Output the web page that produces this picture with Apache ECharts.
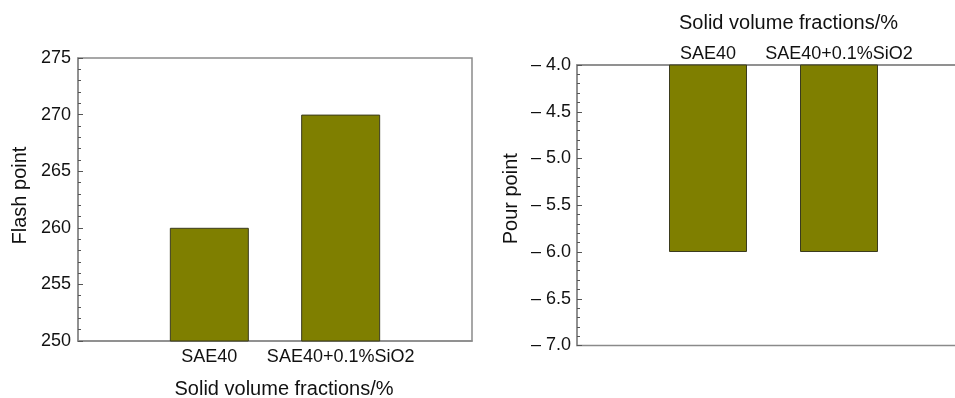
<!DOCTYPE html>
<html>
<head>
<meta charset="utf-8">
<script src="https://cdn.jsdelivr.net/npm/echarts@6/dist/echarts.min.js"></script>
<style>
  html, body { margin: 0; padding: 0; background: #fff; }
  #chart { width: 955px; height: 398px; }
</style>
</head>
<body>
<div id="chart"></div>
<script>
// Oil samples compared in both panels
const categories = ['SAE40', 'SAE40+0.1%SiO2'];
// Flash point values (left panel)
const flashPoint = [260, 270];
// Pour point values (right panel)
const pourPoint = [-6.0, -6.0];
// Value axis ranges and tick steps
const flashTicks = { min: 250, max: 275, step: 5 };
const pourTicks = { min: -7.0, max: -4.0, step: 0.5 };

// Categories sit at 1/3 and 2/3 of the plot width: pad both ends with empty slots
const paddedCats = [''].concat(categories, ['']);
const pad = arr => [null].concat(arr, [null]);

const FONT = '"Liberation Sans", Arial, Helvetica, sans-serif';
const BORDER = '#8a8a8a';
const BAR = '#7f7f00';
const BAR_EDGE = '#3b3b1e';

const chart = echarts.init(document.getElementById('chart'), null, { renderer: 'canvas' });

function valueAxisStyle() {
  return {
    axisLine: { show: true, lineStyle: { color: BORDER, width: 1.5 } },
    axisTick: { show: true, inside: true, length: 5, lineStyle: { color: '#555', width: 1 } },
    minorTick: { show: true, splitNumber: 5, length: 3, lineStyle: { color: '#555', width: 1 } },
    splitLine: { show: false },
    axisLabel: { color: '#111', fontSize: 18, fontFamily: FONT, margin: 7 },
    nameTextStyle: { color: '#111', fontSize: 20, fontFamily: FONT }
  };
}

const option = {
  animation: false,
  backgroundColor: '#fff',
  grid: [
    { left: 78, top: 58, width: 394, height: 283, show: true, borderColor: BORDER, borderWidth: 1.5,
      backgroundColor: 'transparent', containLabel: false, outerBoundsMode: 'none' },
    // right panel runs past the page edge, so its right border is off-canvas
    { left: 577, top: 65, width: 393, height: 280.5, show: true, borderColor: BORDER, borderWidth: 1.5,
      backgroundColor: 'transparent', containLabel: false, outerBoundsMode: 'none' }
  ],
  xAxis: [
    {
      gridIndex: 0, type: 'category', data: paddedCats, boundaryGap: false, position: 'bottom',
      axisLine: { show: true, lineStyle: { color: BORDER, width: 1.5 } },
      axisTick: { show: false },
      axisLabel: { color: '#111', fontSize: 18, fontFamily: FONT, margin: 7, interval: 0 },
      name: 'Solid volume fractions/%', nameLocation: 'middle', nameGap: 38,
      nameTextStyle: { color: '#111', fontSize: 20, fontFamily: FONT, padding: [0, 0, 0, 18] }
    },
    {
      gridIndex: 1, type: 'category', data: paddedCats, boundaryGap: false, position: 'top',
      axisLine: { show: true, lineStyle: { color: BORDER, width: 1.5 } },
      axisTick: { show: false },
      axisLabel: { color: '#111', fontSize: 18, fontFamily: FONT, margin: 2, interval: 0 },
      name: 'Solid volume fractions/%', nameLocation: 'middle', nameGap: 32,
      nameTextStyle: { color: '#111', fontSize: 20, fontFamily: FONT, padding: [0, 0, 0, 30] }
    }
  ],
  yAxis: [
    Object.assign(valueAxisStyle(), {
      gridIndex: 0, type: 'value',
      min: flashTicks.min, max: flashTicks.max, interval: flashTicks.step,
      name: 'Flash point', nameLocation: 'middle', nameGap: 48,
      nameTextStyle: { color: '#111', fontSize: 20, fontFamily: FONT, padding: [0, 0, 0, 8] }
    }),
    Object.assign(valueAxisStyle(), {
      gridIndex: 1, type: 'value',
      min: pourTicks.min, max: pourTicks.max, interval: pourTicks.step,
      name: 'Pour point', nameLocation: 'middle', nameGap: 56,
      nameTextStyle: { color: '#111', fontSize: 20, fontFamily: FONT, padding: [0, 0, 0, 13] },
      axisLabel: {
        color: '#111', fontSize: 18, fontFamily: FONT, margin: 6,
        formatter: v => (v < 0 ? '\u2013 ' : '') + Math.abs(v).toFixed(1)
      }
    })
  ],
  series: [
    {
      type: 'bar', xAxisIndex: 0, yAxisIndex: 0, data: pad(flashPoint), barWidth: 79,
      itemStyle: { color: BAR, borderColor: BAR_EDGE, borderWidth: 1 }, clip: true
    },
    {
      type: 'bar', xAxisIndex: 1, yAxisIndex: 1, data: pad(pourPoint), barWidth: 78,
      itemStyle: { color: BAR, borderColor: BAR_EDGE, borderWidth: 1 }, clip: true
    }
  ]
};

chart.setOption(option);
</script>
</body>
</html>
